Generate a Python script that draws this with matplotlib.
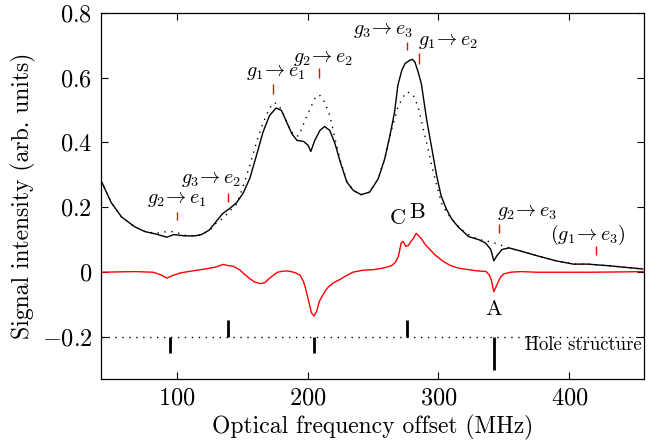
import matplotlib
matplotlib.use("Agg")
import matplotlib.pyplot as plt

plt.rcParams["font.family"] = "serif"
plt.rcParams["font.serif"] = ["cmr10", "DejaVu Serif"]
plt.rcParams["mathtext.fontset"] = "cm"
plt.rcParams["axes.unicode_minus"] = False

# --- measured spectrum (black solid) ---
freq = [42, 50, 58, 68, 76, 84, 92.5, 98, 106, 114, 119, 125, 130, 135, 141, 146,
        151, 156, 161, 166, 171, 176, 180, 184, 188, 192, 197, 200.5, 202.5, 205.5,
        209.5, 213, 217, 221, 225, 230, 235, 241, 247.5, 254, 259, 263, 266.5, 269,
        272, 274.5, 278, 280, 282, 284.5, 287, 291, 295, 298.5, 302, 306, 310, 315,
        323, 331, 336, 340, 342.3, 344.5, 348.5, 354, 363, 376, 390, 403, 414, 430,
        443, 456]
signal = [0.285, 0.215, 0.17, 0.14, 0.125, 0.118, 0.108, 0.116, 0.112, 0.112, 0.116,
          0.13, 0.155, 0.18, 0.198, 0.215, 0.245, 0.29, 0.36, 0.432, 0.483, 0.506,
          0.499, 0.463, 0.427, 0.406, 0.403, 0.391, 0.372, 0.406, 0.437, 0.449, 0.437,
          0.396, 0.34, 0.278, 0.252, 0.239, 0.247, 0.288, 0.35, 0.422, 0.494, 0.576,
          0.622, 0.643, 0.653, 0.656, 0.648, 0.617, 0.58, 0.47, 0.38, 0.30, 0.236,
          0.195, 0.165, 0.14, 0.11, 0.10, 0.09, 0.07, 0.035, 0.05, 0.07, 0.075, 0.065,
          0.05, 0.035, 0.025, 0.025, 0.02, 0.015, 0.01]

# --- model spectrum (black dotted) ---
freq_fit = [42, 50, 58, 68, 76, 84, 92.5, 98, 106, 114, 119, 125, 130, 135, 141, 146,
            150, 156, 161, 166, 171, 174.5, 178, 182, 186, 190, 193, 194.5, 198, 202,
            205.5, 209, 213, 217, 221, 225, 230, 235, 241, 247.5, 254, 259, 263, 265.5,
            269, 273, 276, 280.5, 284.5, 288, 292, 296, 300, 303, 307, 312, 318, 325,
            332, 338, 343, 350, 356, 363, 376, 390, 403, 414, 430, 443, 456]
signal_fit = [0.285, 0.215, 0.17, 0.14, 0.125, 0.12, 0.125, 0.125, 0.114, 0.112, 0.116,
              0.128, 0.15, 0.165, 0.19, 0.21, 0.255, 0.33, 0.40, 0.46, 0.505, 0.523,
              0.515, 0.485, 0.445, 0.42, 0.42, 0.432, 0.468, 0.504, 0.535, 0.547, 0.525,
              0.483, 0.411, 0.345, 0.28, 0.252, 0.239, 0.247, 0.288, 0.35, 0.42, 0.458,
              0.509, 0.54, 0.556, 0.548, 0.509, 0.448, 0.381, 0.309, 0.247, 0.206, 0.18,
              0.155, 0.13, 0.11, 0.10, 0.095, 0.09, 0.08, 0.072, 0.065, 0.05, 0.035,
              0.025, 0.025, 0.02, 0.015, 0.01]

# --- difference (red) ---
freq_diff = [42, 68, 82, 88, 92.5, 97, 103, 112, 122, 130, 135.5, 140, 143.5, 148, 151.5,
             156, 159.5, 164, 167.5, 170, 173, 177, 181, 184, 187.5, 191, 194.5, 197,
             198.5, 200, 201.5, 203, 205, 207, 209, 211, 214, 216, 220, 224, 229, 234.5,
             242, 250.5, 258, 264, 267, 269.5, 271.5, 273, 275, 277, 279, 281, 283, 285,
             287, 290, 293.5, 297, 301.5, 305, 309.5, 316, 323, 330, 336.5, 339, 340.5,
             342.3, 344, 345.6, 347.5, 350, 355, 363, 375, 390, 417, 440, 457]
diff = [0, 0.002, 0, -0.008, -0.018, -0.01, -0.002, 0.004, 0.01, 0.016, 0.024, 0.02,
        0.018, 0.008, -0.005, -0.02, -0.03, -0.035, -0.032, -0.022, -0.012, 0.0, 0.003,
        0.004, 0.002, -0.002, -0.01, -0.03, -0.05, -0.075, -0.10, -0.125, -0.135, -0.12,
        -0.09, -0.075, -0.055, -0.045, -0.032, -0.024, -0.012, 0.0, 0.006, 0.008, 0.013,
        0.02, 0.03, 0.05, 0.09, 0.095, 0.08, 0.082, 0.095, 0.105, 0.12, 0.112, 0.103,
        0.085, 0.07, 0.055, 0.04, 0.03, 0.02, 0.012, 0.008, 0.004, 0.002, -0.01, -0.025,
        -0.06, -0.045, -0.03, -0.015, -0.005, 0.0, 0.002, 0.0, 0.0, 0.0, 0.001, 0.002]

# --- transition labels with red markers ---
trans_labels = [r"$g_2\!\rightarrow e_1$", r"$g_3\!\rightarrow e_2$", r"$g_1\!\rightarrow e_1$",
                r"$g_2\!\rightarrow e_2$", r"$g_3\!\rightarrow e_3$", r"$g_1\!\rightarrow e_2$",
                r"$g_2\!\rightarrow e_3$", r"$(g_1\!\rightarrow e_3)$"]
label_x = [100, 126, 176, 211.5, 258, 284.5, 368, 414]
label_y = [0.225, 0.285, 0.616, 0.66, 0.744, 0.71, 0.183, 0.115]
label_ha = ["center", "center", "center", "center", "center", "left", "center", "center"]
tick_x = [100, 139.5, 174, 209, 276, 285, 346, 420]
tick_lo = [0.16, 0.215, 0.55, 0.598, 0.684, 0.643, 0.12, 0.052]
tick_hi = [0.185, 0.245, 0.58, 0.628, 0.71, 0.674, 0.15, 0.08]

# --- hole structure ---
hole_level = -0.2
hole_x = [95, 139.5, 205, 276, 342.5]
hole_end = [-0.25, -0.148, -0.25, -0.148, -0.30]

peak_names = ["A", "B", "C"]
peak_x = [342.3, 284, 269]
peak_y = [-0.113, 0.185, 0.165]

fig = plt.figure(figsize=(6.58, 4.47), dpi=100)
ax = fig.add_axes([0.153, 0.1514, 0.8257, 0.8204])

ax.plot(freq_fit, signal_fit, color="black", lw=1.0, linestyle=(0, (1, 4)))
ax.plot(freq, signal, color="black", lw=1.0)
ax.plot(freq_diff, diff, color="red", lw=1.0)

ax.vlines(tick_x, tick_lo, tick_hi, color="red", lw=1.0)
for t, x, y, ha in zip(trans_labels, label_x, label_y, label_ha):
    ax.text(x, y, t, fontsize=14.5, ha=ha, va="center")

for n, x, y in zip(peak_names, peak_x, peak_y):
    ax.text(x, y, n, fontsize=16, ha="center", va="center")

ax.axhline(hole_level, color="black", lw=1.0, linestyle=(0, (1, 4)))
ax.vlines(hole_x, hole_level, hole_end, color="black", lw=2.0)
ax.text(455, -0.225, "Hole structure", fontsize=13.5, ha="right", va="center")

ax.set_xlim(42, 457)
ax.set_ylim(-0.33, 0.8)
xticks = [100, 200, 300, 400]
yticks = [-0.2, 0, 0.2, 0.4, 0.6, 0.8]
ax.set_xticks(xticks)
ax.set_xticklabels(["$%d$" % v for v in xticks])
ax.set_yticks(yticks)
ax.set_yticklabels([r"$-0.2$", "$0$", "$0.2$", "$0.4$", "$0.6$", "$0.8$"])
ax.tick_params(direction="in", top=True, right=True, length=5, labelsize=17.5, pad=6)
for s in ax.spines.values():
    s.set_linewidth(0.9)

ax.set_xlabel("Optical frequency offset (MHz)", fontsize=17)
ax.set_ylabel("Signal intensity (arb. units)", fontsize=17)

fig.savefig("out.png", dpi=100)
